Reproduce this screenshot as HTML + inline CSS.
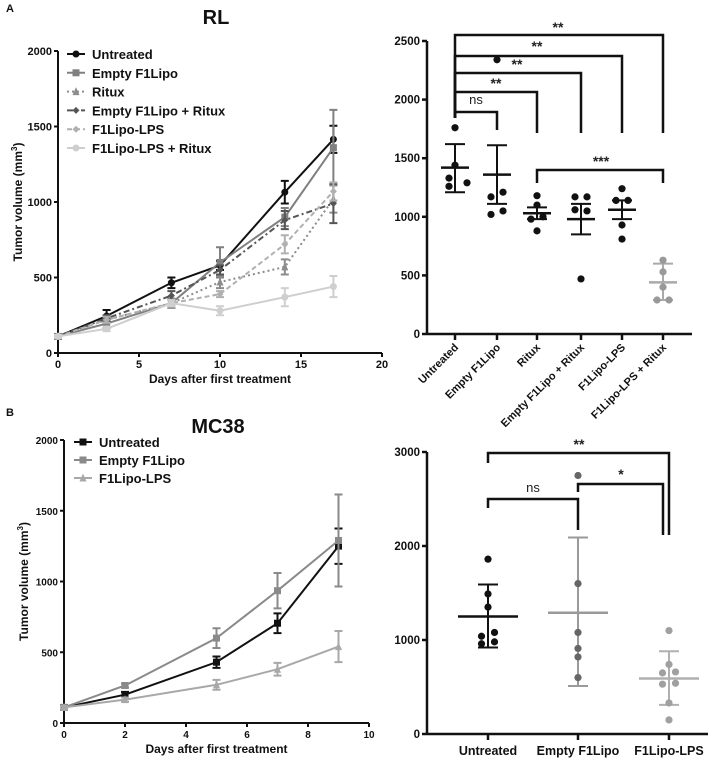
<!DOCTYPE html>
<html><head><meta charset="utf-8">
<style>
html,body{margin:0;padding:0;background:#fff;}
svg{display:block;font-family:"Liberation Sans",Arial,sans-serif;}
.t{font-weight:bold;fill:#111;}
</style></head>
<body>
<svg id="fig" width="708" height="762" viewBox="0 0 708 762" xmlns="http://www.w3.org/2000/svg">
<text x="6" y="12" font-size="11" class="t">A</text>
<text x="216" y="24" font-size="20" class="t" text-anchor="middle">RL</text>
<text x="6" y="416" font-size="11" class="t">B</text>
<text x="218" y="433" font-size="20" class="t" text-anchor="middle">MC38</text>
<g id="aL"></g>
<g id="aR"></g>
<g id="bL"></g>
<g id="bR"></g>
</svg>
<script>
// ---- Panel A left data
const aDays=[0,3,7,10,14,17];
const aNames=["Untreated","Empty F1Lipo","Ritux","Empty F1Lipo + Ritux","F1Lipo-LPS","F1Lipo-LPS + Ritux"];
const aUntreated=[110,245,465,580,1065,1415];
const aUntreatedErr=[15,40,35,30,75,90];
const aEmpty=[110,195,330,600,900,1360];
const aEmptyErr=[10,30,30,100,60,250];
const aRitux=[110,220,330,470,570,1020];
const aRituxErr=[10,20,30,40,50,90];
const aEmptyRitux=[110,230,380,550,880,990];
const aEmptyRituxErr=[10,20,30,30,60,130];
const aLPS=[110,220,330,390,720,1070];
const aLPSErr=[10,20,20,20,60,60];
const aLPSRitux=[110,160,330,280,370,440];
const aLPSRituxErr=[10,15,20,30,60,70];
const aYTicks=[0,500,1000,1500,2000];
const aXTicks=[0,5,10,15,20];
// ---- Panel A right data
const arCats=["Untreated","Empty F1Lipo","Ritux","Empty F1Lipo + Ritux","F1Lipo-LPS","F1Lipo-LPS + Ritux"];
const arPts=[[1760,1440,1330,1260,1290],[2340,1170,1210,1020,1050],[1180,1100,980,1000,880],[1170,1170,1060,1050,470],[1240,1140,1140,930,810],[630,530,400,290,290]];
const arMean=[1420,1360,1030,980,1060,440];
const arLo=[1210,1110,980,850,980,290];
const arHi=[1620,1610,1080,1110,1140,600];
const arYTicks=[0,500,1000,1500,2000,2500];
// ---- Panel B left data
const bDays=[0,2,5,7,9];
const bNames=["Untreated","Empty F1Lipo","F1Lipo-LPS"];
const bUntreated=[110,200,430,705,1250];
const bUntreatedErr=[15,20,40,70,125];
const bEmpty=[110,265,600,935,1290];
const bEmptyErr=[10,15,70,125,325];
const bLPS=[110,165,270,380,540];
const bLPSErr=[10,15,35,45,110];
const bYTicks=[0,500,1000,1500,2000];
const bXTicks=[0,2,4,6,8,10];
// ---- Panel B right data
const brCats=["Untreated","Empty F1Lipo","F1Lipo-LPS"];
const brPts=[[1860,1490,1350,1040,1080,960,980],[2750,1600,1080,910,820,600],[1100,740,650,660,530,540,330,150]];
const brMean=[1250,1290,590];
const brLo=[920,510,310];
const brHi=[1590,2090,880];
const brYTicks=[0,1000,2000,3000];

const NS="http://www.w3.org/2000/svg";
function mk(parent,tag,attrs,text){const e=document.createElementNS(NS,tag);for(const k in attrs)e.setAttribute(k,attrs[k]);if(text!==undefined)e.textContent=text;parent.appendChild(e);return e;}
function lin(d0,d1,r0,r1){return v=>r0+(v-d0)/(d1-d0)*(r1-r0);}

function marker(g,type,x,y,col,r){
  let m;
  if(type==="circle") m=mk(g,"circle",{cx:x,cy:y,r:r,fill:col});
  else if(type==="square") m=mk(g,"rect",{x:x-r,y:y-r,width:2*r,height:2*r,fill:col});
  else if(type==="tri") m=mk(g,"polygon",{points:`${x},${y-r-1} ${x-r},${y+r} ${x+r},${y+r}`,fill:col});
  else m=mk(g,"polygon",{points:`${x},${y-r} ${x+r},${y} ${x},${y+r} ${x-r},${y}`,fill:col});
  return m;
}

function growth(gid,o){
  const g=document.getElementById(gid);
  const X=lin(o.xd[0],o.xd[1],o.x0,o.x1), Y=lin(0,o.ymax,o.y0,o.y1);
  // axes
  let ax=mk(g,"line",{x1:o.x0,y1:o.y0,x2:X(o.xd[1]),y2:o.y0,stroke:"#111","stroke-width":2});
  
  let ay=mk(g,"line",{x1:o.x0,y1:o.y0,x2:o.x0,y2:Y(o.ymax),stroke:"#111","stroke-width":2});
  
  o.yt.forEach(v=>{mk(g,"line",{x1:o.x0-4,y1:Y(v),x2:o.x0,y2:Y(v),stroke:"#111","stroke-width":2});
    const t=mk(g,"text",{x:o.x0-6,y:Y(v)+4,"font-size":o.fs,"text-anchor":"end",class:"t"},v);
    });
  o.xt.forEach(v=>{mk(g,"line",{x1:X(v),y1:o.y0,x2:X(v),y2:o.y0+4,stroke:"#111","stroke-width":2});
    const t=mk(g,"text",{x:X(v),y:o.y0+15,"font-size":o.fs,"text-anchor":"middle",class:"t"},v);
    });
  const xl=mk(g,"text",{x:(o.x0+X(o.xd[1]))/2,y:o.y0+30,"font-size":12,"text-anchor":"middle",class:"t"},"Days after first treatment");
  
  const yc=(o.y0+Y(o.ymax))/2;
  const yl=mk(g,"text",{x:0,y:0,"font-size":12,"text-anchor":"middle",class:"t",transform:`translate(${o.ytx},${yc}) rotate(-90)`});
  yl.innerHTML='Tumor volume (mm<tspan dy="-5" font-size="8">3</tspan><tspan dy="5">)</tspan>';
  
  // series
  o.series.forEach((s,i)=>{
    const sg=mk(g,"g",{});
    
    const pts=o.days.map((d,j)=>X(d)+","+Y(s.v[j])).join(" ");
    mk(sg,"polyline",{points:pts,fill:"none",stroke:s.c,"stroke-width":s.w||2,"stroke-dasharray":s.dash||"none"});
    o.days.forEach((d,j)=>{const x=X(d),y1=Y(s.v[j]-s.e[j]),y2=Y(s.v[j]+s.e[j]);
      mk(sg,"path",{d:`M${x},${y1}V${y2}M${x-4},${y1}H${x+4}M${x-4},${y2}H${x+4}`,stroke:s.c,"stroke-width":2,fill:"none"});
      const m=marker(sg,s.m,x,Y(s.v[j]),s.c,3.5);
      });
    // legend
    const ly=o.ly+i*o.lgap;
    const lg=mk(g,"g",{});
    
    mk(lg,"line",{x1:o.lx,y1:ly,x2:o.lx+18,y2:ly,stroke:s.c,"stroke-width":2,"stroke-dasharray":s.dash||"none"});
    marker(lg,s.m,o.lx+9,ly,s.c,3.5);
    mk(lg,"text",{x:o.lx+25,y:ly+5,"font-size":o.lfs,class:"t"},s.name);
  });
}

growth("aL",{x0:58,x1:382,xd:[0,20],y0:353,y1:51,ymax:2000,yt:aYTicks,xt:aXTicks,days:aDays,fs:11,ytx:22,
  lx:67,ly:54,lgap:18.8,lfs:13,
  series:[
   {key:"untreated",name:aNames[0],v:aUntreated,e:aUntreatedErr,c:"#111",m:"circle"},
   {key:"empty-f1lipo",name:aNames[1],v:aEmpty,e:aEmptyErr,c:"#808080",m:"square"},
   {key:"ritux",name:aNames[2],v:aRitux,e:aRituxErr,c:"#8c8c8c",m:"tri",dash:"2,3"},
   {key:"empty-ritux",name:aNames[3],v:aEmptyRitux,e:aEmptyRituxErr,c:"#555",m:"diamond",dash:"6,3,2,3"},
   {key:"lps",name:aNames[4],v:aLPS,e:aLPSErr,c:"#b0b0b0",m:"diamond",dash:"5,3"},
   {key:"lps-ritux",name:aNames[5],v:aLPSRitux,e:aLPSRituxErr,c:"#cfcfcf",m:"circle"}]});

growth("bL",{x0:64,x1:369,xd:[0,10],y0:723,y1:440,ymax:2000,yt:bYTicks,xt:bXTicks,days:bDays,fs:10,ytx:28,
  lx:74,ly:442,lgap:18,lfs:13,
  series:[
   {key:"untreated",name:bNames[0],v:bUntreated,e:bUntreatedErr,c:"#111",m:"square"},
   {key:"empty-f1lipo",name:bNames[1],v:bEmpty,e:bEmptyErr,c:"#8a8a8a",m:"square"},
   {key:"lps",name:bNames[2],v:bLPS,e:bLPSErr,c:"#a8a8a8",m:"tri"}]});

function scatter(gid,o){
  const g=document.getElementById(gid);
  const Y=lin(0,o.ymax,o.y0,o.y1);
  let ax=mk(g,"line",{x1:o.x0,y1:o.y0,x2:o.xend,y2:o.y0,stroke:"#111","stroke-width":2.5});
  
  let ay=mk(g,"line",{x1:o.x0,y1:o.y0,x2:o.x0,y2:Y(o.ymax),stroke:"#111","stroke-width":2.5});
  
  o.yt.forEach(v=>{mk(g,"line",{x1:o.x0-5,y1:Y(v),x2:o.x0,y2:Y(v),stroke:"#111","stroke-width":2.5});
    const t=mk(g,"text",{x:o.x0-7,y:Y(v)+4,"font-size":11.5,"text-anchor":"end",class:"t"},v);
    });
  o.cats.forEach((c,i)=>{
    const x=o.cx[i];
    mk(g,"line",{x1:x,y1:o.y0,x2:x,y2:o.y0+6,stroke:"#111","stroke-width":2.5});
    let t;
    if(o.rot) t=mk(g,"text",{x:0,y:0,"font-size":11,"text-anchor":"end",class:"t",transform:`translate(${x+4},${o.y0+14}) rotate(-45)`},c);
    else t=mk(g,"text",{x:x,y:o.y0+21,"font-size":12.5,"text-anchor":"middle",class:"t"},c);
    
    const col=o.col[i];
    const gg=mk(g,"g",{});
    
    // sd and mean
    mk(gg,"path",{d:`M${x},${Y(o.lo[i])}V${Y(o.hi[i])}M${x-10},${Y(o.lo[i])}H${x+10}M${x-10},${Y(o.hi[i])}H${x+10}`,stroke:o.ecol[i],"stroke-width":2,fill:"none"});
    mk(gg,"line",{x1:x-o.mw,y1:Y(o.mean[i]),x2:x+o.mw,y2:Y(o.mean[i]),stroke:o.ecol[i],"stroke-width":2.5});
    // points: jitter by rank of closeness
    const pts=o.pts[i];
    pts.forEach((v,j)=>{
      let n=0,k=0;pts.forEach((w,jj)=>{if(Math.abs(w-v)<o.close){n++;if(jj<j)k++;}});
      const dx=n>1?(k-(n-1)/2)*o.jit:0;
      const p=mk(gg,"circle",{cx:x+dx,cy:Y(v),r:o.r,fill:col});
      
    });
  });
  o.brk.forEach(b=>{
    const bg=mk(g,"g",{});
    
    mk(bg,"path",{d:`M${b[0]},${b[3]}V${b[2]}H${b[1]}V${b[4]}`,stroke:"#111","stroke-width":2.5,fill:"none"});
    mk(bg,"text",{x:b[5],y:b[6],"font-size":b[7]==="ns"?13:14,"text-anchor":"middle","font-weight":b[7]==="ns"?"normal":"bold",fill:"#222"},b[7]);
  });
}

scatter("aR",{x0:427,xend:692,y0:334,y1:41,ymax:2500,yt:arYTicks,cats:arCats,cx:[455,497,537,581,622,663],rot:true,
  pts:arPts,mean:arMean,lo:arLo,hi:arHi,mw:14,r:3.6,close:60,jit:12,
  col:["#111","#111","#111","#111","#111","#999"],ecol:["#111","#111","#111","#111","#111","#aaa"],
  brk:[[455,497,112,118,130,476,104,"ns"],[455,537,92,118,133,496,88,"**"],[455,581,73,118,133,517,69,"**"],
       [455,622,56,118,133,537,51,"**"],[455,663,35,118,133,558,32,"**"],[537,663,170,183,183,601,166,"***"]]});

scatter("bR",{x0:427,xend:708,y0:734,y1:452,ymax:3000,yt:brYTicks,cats:brCats,cx:[488,578,669],rot:false,
  pts:brPts,mean:brMean,lo:brLo,hi:brHi,mw:30,r:3.6,close:55,jit:13,
  col:["#111","#666","#a0a0a0"],ecol:["#111","#9a9a9a","#b0b0b0"],
  brk:[[488,669,453,463,535,579,449,"**"],[488,578,499,508,530,533,492,"ns"],[578,663,484,492,535,621,479,"*"]]});
</script>
</body></html>
